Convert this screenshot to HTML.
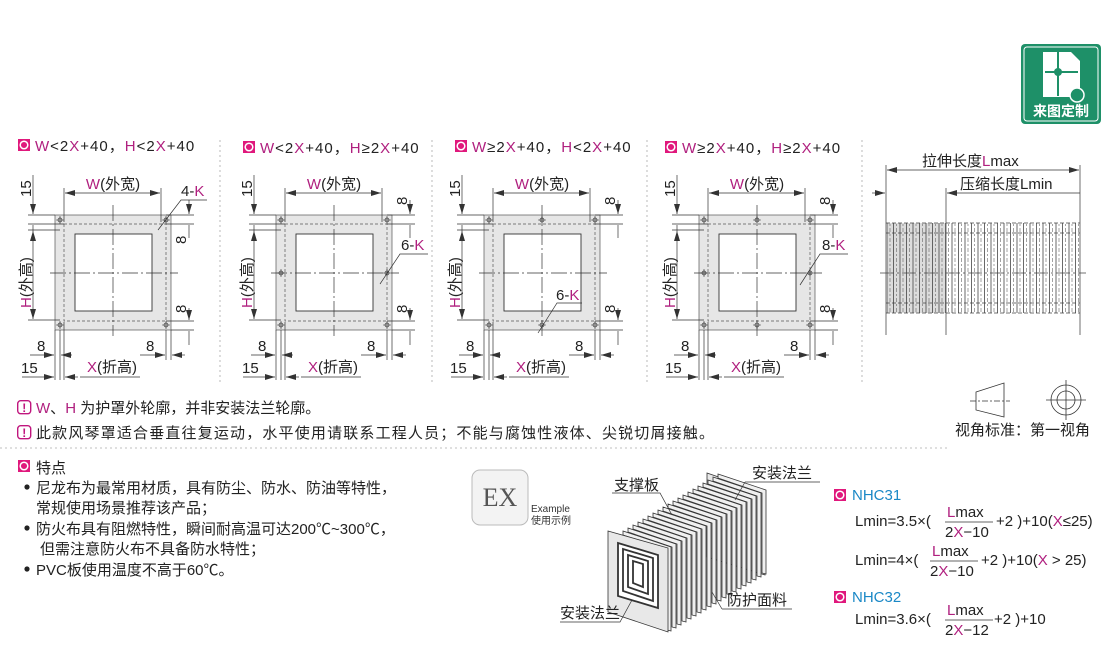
<!DOCTYPE html>
<html><head><meta charset="utf-8"><style>
html,body{margin:0;padding:0;background:#fff;}
svg{display:block;font-family:"Liberation Sans","Noto Sans CJK SC",sans-serif;}
.t{font-size:15px;fill:#222;}
.c{font-size:15px;fill:#222;letter-spacing:1px;}
.m{fill:#b0207f;}
.b{fill:#1a88c6;}
</style></head><body>
<svg width="1110" height="648" viewBox="0 0 1110 648" xmlns="http://www.w3.org/2000/svg">
<defs>
<marker id="a" viewBox="0 0 10 6" refX="10" refY="3" markerWidth="10" markerHeight="6" orient="auto-start-reverse" markerUnits="userSpaceOnUse"><path d="M0,0 L10,3 L0,6z" fill="#333"/></marker>
<g id="ic"><rect x="0" y="0" width="12" height="12" fill="#e0187c"/><circle cx="6" cy="6" r="3.8" fill="none" stroke="#fff" stroke-width="1.5"/></g>
<g id="warn"><rect x="0.7" y="0.7" width="13" height="13" rx="3" fill="#fff" stroke="#c0167e" stroke-width="1.4"/><text x="7.2" y="12" font-size="12" font-weight="bold" text-anchor="middle" fill="#c0167e">!</text></g>
<g id="hole"><circle r="2" fill="none" stroke="#333" stroke-width="0.7"/><path d="M-4,0H4M0,-4V4" stroke="#333" stroke-width="0.6"/></g>
<g id="panel" stroke="#333" stroke-width="0.7" fill="none">
<rect x="55" y="215" width="116" height="115" fill="#e6e6e6" stroke="#555"/>
<rect x="75" y="234" width="77" height="77" fill="#fff" stroke="#333" stroke-width="0.9"/>
<rect x="64" y="224" width="102" height="97" stroke="#555" stroke-dasharray="3,2"/>
<path d="M50,273H178" stroke-dasharray="16,3,2,3"/>
<path d="M113,205V336" stroke-dasharray="16,3,2,3"/>
<use href="#hole" x="60" y="220"/><use href="#hole" x="166" y="220"/>
<use href="#hole" x="60" y="325"/><use href="#hole" x="166" y="325"/>
<path d="M64,188V222M161,188V222"/>
<path d="M65,193H160" marker-start="url(#a)" marker-end="url(#a)"/>
<path d="M28,215H55M28,224H64M28,230H60M28,320H60"/>
<path d="M33,175V214" marker-end="url(#a)"/>
<path d="M33,231V319" marker-start="url(#a)" marker-end="url(#a)"/>
<path d="M33,225V231"/>
<path d="M166,215H194M166,224H194M166,321H194M171,330H194"/>
<path d="M189,200V214" marker-end="url(#a)"/><path d="M189,225V238"/>
<path d="M189,308V320" marker-end="url(#a)"/><path d="M189,331V345"/>
<path d="M55,330V380M60,330V380M64,322V380M166,330V360M171,330V360"/>
<path d="M30,355H54" marker-end="url(#a)"/><path d="M61,355H72" marker-start="url(#a)"/>
<path d="M140,355H165" marker-end="url(#a)"/><path d="M172,355H185" marker-start="url(#a)"/>
<path d="M22,377H54" marker-end="url(#a)"/><path d="M65,377H78" marker-start="url(#a)"/>
<path d="M80,377H140"/>
</g>
<g id="ptext">
<text class="t" x="113" y="189" text-anchor="middle"><tspan class="m">W</tspan>(外宽)</text>
<text class="t" transform="translate(31,197) rotate(-90)">15</text>
<text class="t" transform="translate(31,308) rotate(-90)"><tspan class="m">H</tspan>(外高)</text>
<text class="t" transform="translate(186,313) rotate(-90)">8</text>
<text class="t" x="37" y="351">8</text>
<text class="t" x="146" y="351">8</text>
<text class="t" x="21" y="373">15</text>
<text class="t" x="87" y="372"><tspan class="m">X</tspan>(折高)</text>
</g>
<pattern id="pl" x="886" y="0" width="6.5" height="10" patternUnits="userSpaceOnUse"><path d="M1,0V10" stroke="#444" stroke-width="0.8"/><path d="M4,0V10" stroke="#666" stroke-width="0.6" stroke-dasharray="2,2"/></pattern>
<g id="pleat"><path d="M0,0 L48,16 L48,100 L44,99 L44,19 L0,4z" fill="#f0f0f0" stroke="#333" stroke-width="0.8"/></g>
</defs>

<rect x="1021" y="44" width="80" height="80" rx="4" fill="#1e9068"/>
<rect x="1024" y="47" width="74" height="74" rx="3" fill="none" stroke="#fff" stroke-width="1"/>
<path d="M1043,52H1071L1080,61V97H1043Z" fill="#fff"/>
<path d="M1058,52V96M1045,72H1078" stroke="#1e9068" stroke-width="2"/>
<circle cx="1058" cy="72" r="4" fill="#1e9068"/>
<circle cx="1077" cy="95" r="7" fill="#1e9068" stroke="#fff" stroke-width="1.5"/>
<text x="1061" y="116" font-size="14" font-weight="bold" fill="#fff" text-anchor="middle">来图定制</text>

<use href="#ic" x="18" y="139"/>
<text class="c" x="35" y="151"><tspan class="m">W</tspan>&lt;2<tspan class="m">X</tspan>+40，<tspan class="m">H</tspan>&lt;2<tspan class="m">X</tspan>+40</text>
<use href="#ic" x="243" y="141"/>
<text class="c" x="260" y="153"><tspan class="m">W</tspan>&lt;2<tspan class="m">X</tspan>+40，<tspan class="m">H</tspan>≥2<tspan class="m">X</tspan>+40</text>
<use href="#ic" x="455" y="140"/>
<text class="c" x="472" y="152"><tspan class="m">W</tspan>≥2<tspan class="m">X</tspan>+40，<tspan class="m">H</tspan>&lt;2<tspan class="m">X</tspan>+40</text>
<use href="#ic" x="665" y="141"/>
<text class="c" x="682" y="153"><tspan class="m">W</tspan>≥2<tspan class="m">X</tspan>+40，<tspan class="m">H</tspan>≥2<tspan class="m">X</tspan>+40</text>

<g stroke="#aaa" stroke-width="0.8" stroke-dasharray="2,3">
<path d="M220,140V385M432,140V385M647,140V385M862,140V385"/>
<path d="M0,448H950"/>
</g>

<use href="#panel"/><use href="#ptext"/>
<g transform="translate(221,0)"><use href="#panel"/><use href="#ptext"/></g>
<g transform="translate(429,0)"><use href="#panel"/><use href="#ptext"/></g>
<g transform="translate(644,0)"><use href="#panel"/><use href="#ptext"/></g>
<text class="t" transform="translate(186,244) rotate(-90)">8</text>
<text class="t" transform="translate(407,205) rotate(-90)">8</text>
<text class="t" transform="translate(615,205) rotate(-90)">8</text>
<text class="t" transform="translate(830,205) rotate(-90)">8</text>

<g stroke="#333" stroke-width="0.7" fill="none">
<path d="M158,230L181,200H207"/>
<path d="M380,284L400,254H428"/>
<path d="M538,333L557,303H582"/>
<path d="M800,285L820,254H848"/>
</g>
<text class="t" x="181" y="196">4-<tspan class="m">K</tspan></text>
<text class="t" x="401" y="250">6-<tspan class="m">K</tspan></text>
<text class="t" x="556" y="300">6-<tspan class="m">K</tspan></text>
<text class="t" x="822" y="250">8-<tspan class="m">K</tspan></text>
<use href="#hole" x="281" y="273"/><use href="#hole" x="387" y="273"/>
<use href="#hole" x="542" y="220"/><use href="#hole" x="542" y="325"/>
<use href="#hole" x="704" y="273"/><use href="#hole" x="810" y="273"/>
<use href="#hole" x="757" y="220"/><use href="#hole" x="757" y="325"/>

<g stroke="#333" stroke-width="0.7" fill="none">
<path d="M886,165V335M946,188V335M1080,165V335"/>
<path d="M887,170H1079" marker-start="url(#a)" marker-end="url(#a)"/>
<path d="M872,193H885" marker-end="url(#a)"/>
<path d="M947,193H1080" marker-start="url(#a)"/>
</g>
<rect x="886" y="223" width="60" height="90" fill="#dcdcdc"/>
<rect x="886" y="223" width="194" height="90" fill="url(#pl)"/>
<g stroke="#444" stroke-width="0.7" fill="none">
<path d="M886,223H1080M886,313H1080M886,233H1080M886,303H1080" stroke-dasharray="4,2"/>
<path d="M880,273H1086" stroke-dasharray="14,3,2,3"/>
</g>
<text class="t" x="922" y="166">拉伸长度<tspan class="m">L</tspan>max</text>
<text class="t" x="960" y="189">压缩长度Lmin</text>

<g stroke="#333" stroke-width="0.8" fill="none">
<path d="M976,392L1004,383V417L976,410Z"/>
<path d="M970,401H1010" stroke-dasharray="6,2,2,2"/>
<circle cx="1066" cy="400" r="15"/><circle cx="1066" cy="400" r="9"/>
<path d="M1046,400H1086M1066,380V420"/>
</g>
<text class="t" x="955" y="435">视角标准：第一视角</text>

<use href="#warn" x="17" y="400"/>
<text class="t" x="36" y="413"><tspan class="m">W</tspan>、<tspan class="m">H</tspan> 为护罩外轮廓，并非安装法兰轮廓。</text>
<use href="#warn" x="17" y="425"/>
<text class="t" x="36" y="438" textLength="678">此款风琴罩适合垂直往复运动，水平使用请联系工程人员；不能与腐蚀性液体、尖锐切屑接触。</text>

<use href="#ic" x="18" y="460"/>
<text class="t" x="36" y="473">特点</text>
<circle cx="27" cy="487" r="2.6" fill="#222"/>
<text class="t" x="36" y="493">尼龙布为最常用材质，具有防尘、防水、防油等特性，</text>
<text class="t" x="36" y="513">常规使用场景推荐该产品；</text>
<circle cx="27" cy="528" r="2.6" fill="#222"/>
<text class="t" x="36" y="534">防火布具有阻燃特性，瞬间耐高温可达200℃~300℃，</text>
<text class="t" x="40" y="554">但需注意防火布不具备防水特性；</text>
<circle cx="27" cy="569" r="2.6" fill="#222"/>
<text class="t" x="36" y="575">PVC板使用温度不高于60℃。</text>

<rect x="472" y="470" width="56" height="55" rx="8" fill="#f3f3f3" stroke="#bbb"/>
<text x="500" y="506" font-family="Liberation Serif,serif" font-size="26" fill="#555" text-anchor="middle">EX</text>
<text x="531" y="512" font-size="10" fill="#333">Example</text>
<text x="531" y="524" font-size="10" fill="#333">使用示例</text>

<path d="M707,473L765,493V575L707,557Z" fill="#e8e8e8" stroke="#333" stroke-width="0.8"/>
<g>
<use href="#pleat" transform="translate(718,474)"/>
<use href="#pleat" transform="translate(713,477)"/>
<use href="#pleat" transform="translate(708,480)"/>
<use href="#pleat" transform="translate(703,483)"/>
<use href="#pleat" transform="translate(698,486)"/>
<use href="#pleat" transform="translate(693,489)"/>
<use href="#pleat" transform="translate(688,492)"/>
<use href="#pleat" transform="translate(683,495)"/>
<use href="#pleat" transform="translate(678,498)"/>
<use href="#pleat" transform="translate(673,501)"/>
<use href="#pleat" transform="translate(668,504)"/>
<use href="#pleat" transform="translate(663,507)"/>
<use href="#pleat" transform="translate(658,510)"/>
<use href="#pleat" transform="translate(653,513)"/>
<use href="#pleat" transform="translate(648,516)"/>
<use href="#pleat" transform="translate(643,519)"/>
<use href="#pleat" transform="translate(638,522)"/>
<use href="#pleat" transform="translate(633,525)"/>
<use href="#pleat" transform="translate(628,528)"/>
<use href="#pleat" transform="translate(623,531)"/>
</g>
<path d="M608,531L668,548V632L608,612Z" fill="#e8e8e8" stroke="#333" stroke-width="0.8"/>
<g fill="none" stroke="#333" stroke-width="1.8">
<path d="M618,543L658,555V608L618,596Z" fill="#fff"/>
<path d="M623,549L653,558V601L623,591Z"/>
<path d="M628,555L648,561V594L628,587Z"/>
<path d="M633,561L643,564V587L633,583Z"/>
</g>
<g fill="none" stroke="#333" stroke-width="0.7">
<path d="M560,622H620L632,600"/>
<path d="M612,493H660L672,515"/>
<path d="M745,482H820"/><path d="M745,482L735,500"/>
<path d="M722,609H792"/><path d="M722,609L712,592"/>
</g>
<text class="t" x="560" y="618">安装法兰</text>
<text class="t" x="614" y="490">支撑板</text>
<text class="t" x="752" y="478">安装法兰</text>
<text class="t" x="727" y="605">防护面料</text>

<use href="#ic" x="834" y="489"/>
<text class="t b" x="852" y="500">NHC31</text>
<text class="t" x="855" y="526">Lmin=3.5×(</text>
<text class="t" x="947" y="517"><tspan class="m">L</tspan>max</text>
<path d="M945,522H993" stroke="#333" stroke-width="0.8"/>
<text class="t" x="945" y="537">2<tspan class="m">X</tspan>−10</text>
<text class="t" x="996" y="526">+2 )+10(<tspan class="m">X</tspan>≤25)</text>
<text class="t" x="855" y="565">Lmin=4×(</text>
<text class="t" x="932" y="556"><tspan class="m">L</tspan>max</text>
<path d="M930,561H978" stroke="#333" stroke-width="0.8"/>
<text class="t" x="930" y="576">2<tspan class="m">X</tspan>−10</text>
<text class="t" x="981" y="565">+2 )+10(<tspan class="m">X</tspan> &gt; 25)</text>
<use href="#ic" x="834" y="591"/>
<text class="t b" x="852" y="602">NHC32</text>
<text class="t" x="855" y="624">Lmin=3.6×(</text>
<text class="t" x="947" y="615"><tspan class="m">L</tspan>max</text>
<path d="M945,620H993" stroke="#333" stroke-width="0.8"/>
<text class="t" x="945" y="635">2<tspan class="m">X</tspan>−12</text>
<text class="t" x="994" y="624">+2 )+10</text>
</svg>
</body></html>
